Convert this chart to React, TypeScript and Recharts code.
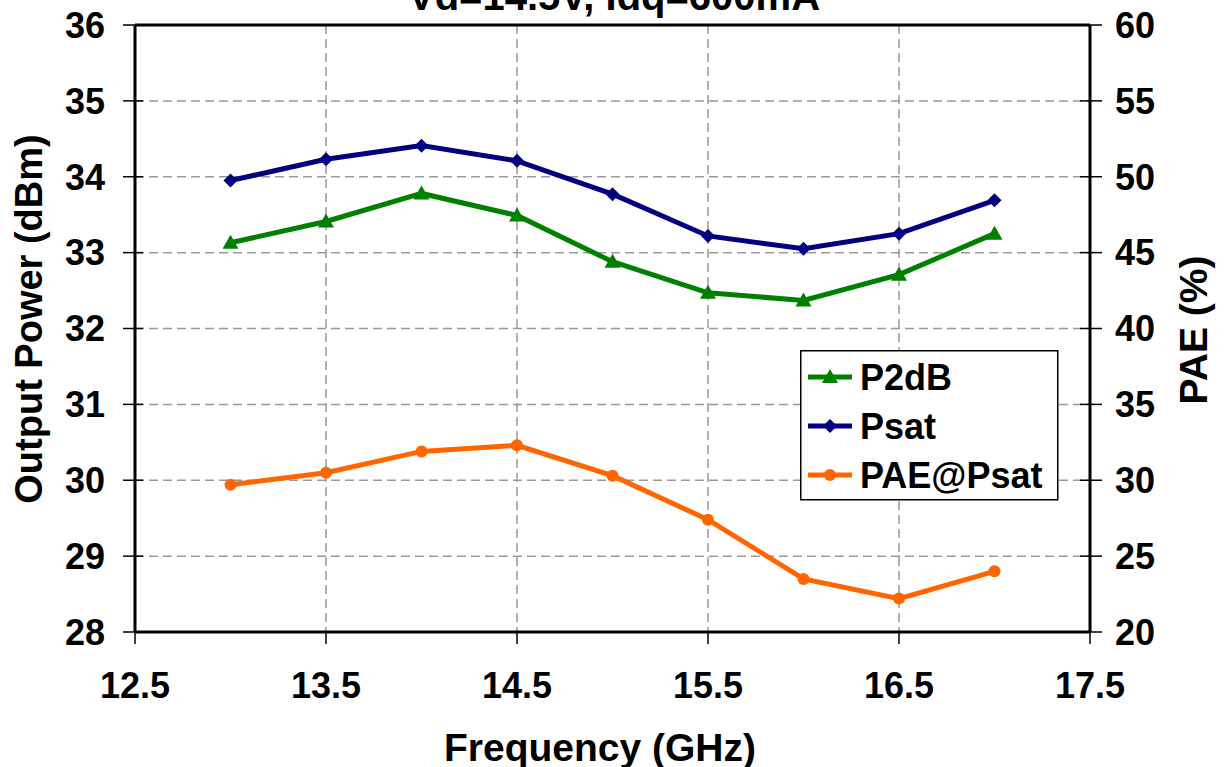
import React from 'react';
import {
  ComposedChart,
  Line,
  XAxis,
  YAxis,
  CartesianGrid,
  ReferenceLine,
} from 'recharts';

// frequency points (GHz)
const freqs = [13.0, 13.5, 14.0, 14.5, 15.0, 15.5, 16.0, 16.5, 17.0];
// output power (dBm)
const p2db = [33.13, 33.41, 33.78, 33.49, 32.88, 32.47, 32.37, 32.71, 33.25];
const psat = [33.95, 34.23, 34.41, 34.21, 33.77, 33.22, 33.05, 33.25, 33.69];
// PAE at Psat (%)
const paePsat = [29.7, 30.5, 31.9, 32.3, 30.3, 27.4, 23.5, 22.2, 24.0];

const xTicks = [12.5, 13.5, 14.5, 15.5, 16.5, 17.5];
const leftTicks = [28, 29, 30, 31, 32, 33, 34, 35, 36];
const rightTicks = [20, 25, 30, 35, 40, 45, 50, 55, 60];

const data = freqs.map((f, i) => ({
  freq: f,
  p2db: p2db[i],
  psat: psat[i],
  pae: paePsat[i],
}));

const GREEN = '#008000';
const NAVY = '#000080';
const ORANGE = '#ff6600';
const FONT = '"Liberation Sans", Arial, sans-serif';

const tickStyle = { fontSize: 36, fontWeight: 700, fill: '#000', fontFamily: FONT };

// y-axis ticks cross the axis line, as in the original plot
function LeftTick({ x, y, payload }: any) {
  return (
    <g>
      <line x1={x + 18} x2={x + 38} y1={y} y2={y} stroke="#000" strokeWidth={1.5} />
      <text x={x} y={y} dy="0.355em" textAnchor="end" {...tickStyle}>
        {payload.value}
      </text>
    </g>
  );
}

function RightTick({ x, y, payload }: any) {
  return (
    <g>
      <line x1={x - 35} x2={x - 13} y1={y} y2={y} stroke="#000" strokeWidth={1.5} />
      <text x={x} y={y} dy="0.355em" textAnchor="start" {...tickStyle}>
        {payload.value}
      </text>
    </g>
  );
}

function Triangle(cx: number, cy: number, color: string, k?: any) {
  const s = 8;
  return (
    <polygon
      key={k}
      points={`${cx},${cy - s} ${cx + s},${cy + s * 0.75} ${cx - s},${cy + s * 0.75}`}
      fill={color}
    />
  );
}

function Diamond(cx: number, cy: number, color: string, k?: any) {
  const s = 7;
  return (
    <polygon
      key={k}
      points={`${cx},${cy - s} ${cx + s},${cy} ${cx},${cy + s} ${cx - s},${cy}`}
      fill={color}
    />
  );
}

function Dot(cx: number, cy: number, color: string, k?: any) {
  return <circle key={k} cx={cx} cy={cy} r={6} fill={color} />;
}

const legendItems = [
  { label: 'P2dB', color: GREEN, marker: Triangle },
  { label: 'Psat', color: NAVY, marker: Diamond },
  { label: 'PAE@Psat', color: ORANGE, marker: Dot },
];

function Overlay() {
  const textProps = { fontWeight: 700, fontFamily: FONT, fill: '#000' };
  return (
    <svg
      width={1224}
      height={767}
      style={{ position: 'absolute', left: 0, top: 0, pointerEvents: 'none' }}
    >
      <text x={614} y={10} textAnchor="middle" fontSize={40} {...textProps}>
        Vd=14.5V, Idq=600mA
      </text>
      <text x={600} y={761} textAnchor="middle" fontSize={39} {...textProps}>
        Frequency (GHz)
      </text>
      <text
        transform="translate(42,319) rotate(-90)"
        textAnchor="middle"
        fontSize={38}
        {...textProps}
      >
        Output Power (dBm)
      </text>
      <text
        transform="translate(1207,330) rotate(-90)"
        textAnchor="middle"
        fontSize={39}
        {...textProps}
      >
        PAE (%)
      </text>
      <g transform="translate(800,350)">
        <rect x={0.75} y={0.75} width={257} height={149} fill="#fff" stroke="#000" strokeWidth={1.5} />
        {legendItems.map((it, i) => {
          const y = 27 + i * 49;
          return (
            <g key={it.label}>
              <line x1={8} x2={52} y1={y} y2={y} stroke={it.color} strokeWidth={5} />
              {it.marker(30, y, it.color)}
              <text x={60} y={y + 13} fontSize={36} {...textProps}>
                {it.label}
              </text>
            </g>
          );
        })}
      </g>
    </svg>
  );
}

export default function App() {
  return (
    <div
      style={{
        position: 'fixed',
        left: 0,
        top: 0,
        width: 1224,
        height: 767,
        overflow: 'hidden',
        background: '#fff',
      }}
    >
      <ComposedChart
        width={1224}
        height={767}
        data={data}
        margin={{ top: 25, right: 0, bottom: 0, left: 0 }}
      >
        <CartesianGrid
          yAxisId="left"
          stroke="#999"
          strokeWidth={1.5}
          strokeDasharray="9 5"
        />
        <XAxis
          dataKey="freq"
          type="number"
          domain={[12.5, 17.5]}
          ticks={xTicks}
          tickFormatter={(v: number) => v.toFixed(1)}
          tick={tickStyle}
          tickSize={12}
          tickMargin={28}
          height={135}
          axisLine={{ stroke: '#000', strokeWidth: 3 }}
          tickLine={{ stroke: '#000', strokeWidth: 1.5 }}
        />
        <YAxis
          yAxisId="left"
          domain={[28, 36]}
          ticks={leftTicks}
          tick={<LeftTick />}
          tickSize={12}
          tickMargin={18}
          width={135}
          axisLine={{ stroke: '#000', strokeWidth: 3 }}
          tickLine={false}
        />
        <YAxis
          yAxisId="right"
          orientation="right"
          domain={[20, 60]}
          ticks={rightTicks}
          tick={<RightTick />}
          tickSize={12}
          tickMargin={13}
          width={134}
          axisLine={{ stroke: '#000', strokeWidth: 3 }}
          tickLine={false}
        />
        <ReferenceLine yAxisId="left" y={36} stroke="#000" strokeWidth={3} />
        <Line
          yAxisId="left"
          dataKey="p2db"
          stroke={GREEN}
          strokeWidth={5}
          isAnimationActive={false}
          dot={(p: any) => Triangle(p.cx, p.cy, GREEN, p.index)}
          activeDot={false}
        />
        <Line
          yAxisId="left"
          dataKey="psat"
          stroke={NAVY}
          strokeWidth={5}
          isAnimationActive={false}
          dot={(p: any) => Diamond(p.cx, p.cy, NAVY, p.index)}
          activeDot={false}
        />
        <Line
          yAxisId="right"
          dataKey="pae"
          stroke={ORANGE}
          strokeWidth={5}
          isAnimationActive={false}
          dot={(p: any) => Dot(p.cx, p.cy, ORANGE, p.index)}
          activeDot={false}
        />
      </ComposedChart>
      <Overlay />
    </div>
  );
}
